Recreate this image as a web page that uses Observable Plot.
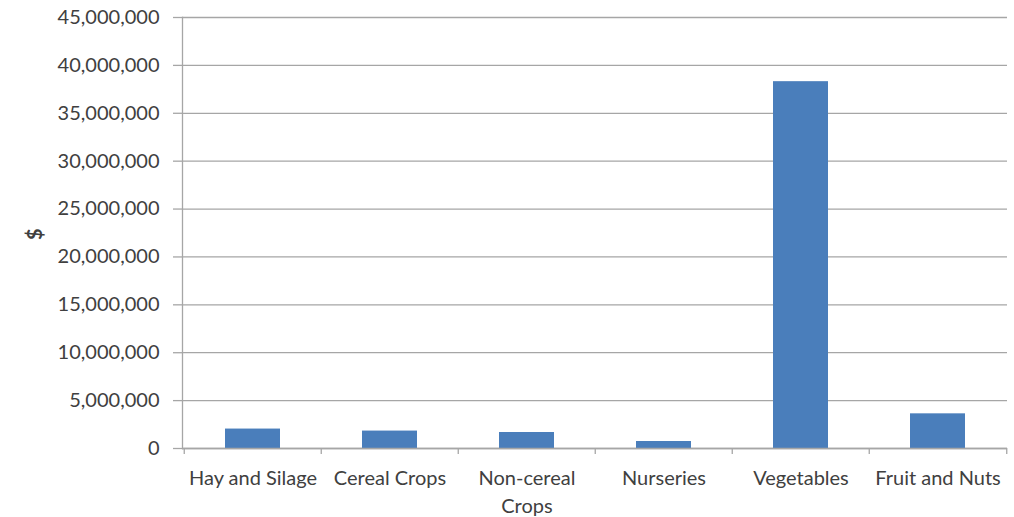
<!DOCTYPE html>
<html>
<head>
<meta charset="utf-8">
<script src="https://cdn.jsdelivr.net/npm/d3@7"></script>
<script src="https://cdn.jsdelivr.net/npm/@observablehq/plot@0.6"></script>
<style>
  html, body { margin: 0; padding: 0; background: #ffffff; }
  #chart svg { display: block; }
</style>
</head>
<body>
<div id="chart"></div>
<script>
const categories = ["Hay and Silage", "Cereal Crops", "Non-cereal Crops", "Nurseries", "Vegetables", "Fruit and Nuts"];
const values = [2030000, 1820000, 1670000, 730000, 38300000, 3620000];
const yTicks = [0, 5000000, 10000000, 15000000, 20000000, 25000000, 30000000, 35000000, 40000000, 45000000];
const yLabel = "$";

const data = categories.map((c, i) => ({category: c, value: values[i]}));

const W = 1014, H = 517;
const mL = 182, mR = 7, mT = 17, mB = 69;
const step = (W - mL - mR) / categories.length;
const textColor = "#404040";
const gridColor = "#a6a6a6";
const font = "Lato, 'Open Sans', sans-serif";

const fmt = d3.format(",");
const wrap = d => d === "Non-cereal Crops" ? "Non-cereal\nCrops" : d;

const chart = Plot.plot({
  width: W,
  height: H,
  marginLeft: mL,
  marginRight: mR,
  marginTop: mT,
  marginBottom: mB,
  style: {fontFamily: font, fontSize: "20px", color: textColor, background: "#ffffff", overflow: "visible"},
  x: {domain: categories, paddingInner: 0.6, paddingOuter: 0.3, label: null},
  y: {domain: [0, 45000000], label: null},
  marks: [
    Plot.gridY(yTicks, {stroke: gridColor, strokeOpacity: 1, strokeWidth: 1.3}),
    Plot.barY(data, {x: "category", y: "value", fill: "#4a7ebb"}),
    Plot.axisY(yTicks, {
      tickSize: 9, tickPadding: 14, stroke: gridColor, strokeWidth: 1.3,
      tickFormat: fmt, fill: textColor, fontSize: 20, label: null
    }),
    Plot.frame({anchor: "left", stroke: gridColor, strokeWidth: 1.3}),
    Plot.ruleY([0], {stroke: gridColor, strokeWidth: 1.3}),
    Plot.axisX({
      tickSize: 0, tickPadding: 17, tickFormat: wrap, fill: textColor,
      fontSize: 20, lineHeight: 1.38, label: null
    }),
    Plot.axisX({
      tickSize: 6, tickFormat: () => "", dx: -step / 2, stroke: gridColor, strokeWidth: 1.3, label: null
    }),
    Plot.axisX([categories[categories.length - 1]], {
      tickSize: 6, tickFormat: () => "", dx: step / 2, stroke: gridColor, strokeWidth: 1.3, label: null
    }),
    Plot.text([yLabel], {
      frameAnchor: "left", dx: -147, dy: 7, rotate: -90, text: d => d,
      fill: textColor, fontSize: 20, fontWeight: "bold"
    })
  ]
});

document.getElementById("chart").appendChild(chart);
</script>
</body>
</html>
